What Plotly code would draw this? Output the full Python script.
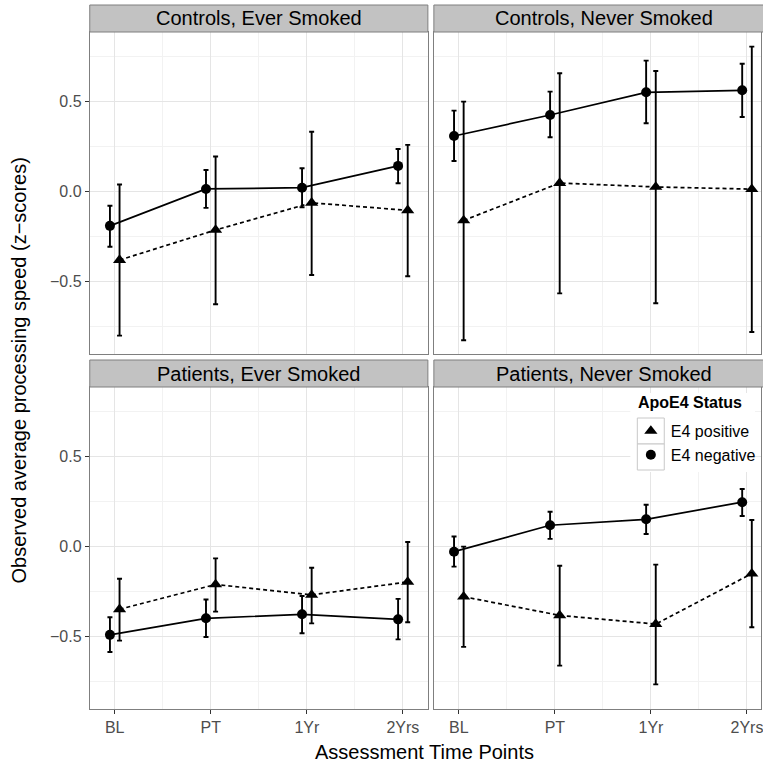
import plotly.graph_objects as go

W, H = 763, 773

# ---------------- data ----------------
time_labels = ["BL", "PT", "1Yr", "2Yrs"]
time_index = [1, 2, 3, 4]
panel_titles = ["Controls, Ever Smoked", "Controls, Never Smoked",
                "Patients, Ever Smoked", "Patients, Never Smoked"]
legend_title = "ApoE4 Status"
pos_name = "E4 positive"
neg_name = "E4 negative"

# Controls, Ever Smoked
ce_neg_mean = [-0.190, 0.015, 0.022, 0.143]
ce_neg_lower = [-0.306, -0.090, -0.087, 0.047]
ce_neg_upper = [-0.078, 0.120, 0.130, 0.237]
ce_pos_mean = [-0.380, -0.213, -0.062, -0.104]
ce_pos_lower = [-0.800, -0.626, -0.463, -0.470]
ce_pos_upper = [0.040, 0.195, 0.333, 0.260]

# Controls, Never Smoked
cn_neg_mean = [0.309, 0.426, 0.552, 0.563]
cn_neg_lower = [0.170, 0.302, 0.380, 0.415]
cn_neg_upper = [0.450, 0.556, 0.728, 0.711]
cn_pos_mean = [-0.160, 0.048, 0.026, 0.014]
cn_pos_lower = [-0.826, -0.565, -0.620, -0.780]
cn_pos_upper = [0.500, 0.658, 0.670, 0.806]

# Patients, Ever Smoked
pe_neg_mean = [-0.490, -0.398, -0.376, -0.404]
pe_neg_lower = [-0.585, -0.502, -0.481, -0.515]
pe_neg_upper = [-0.392, -0.294, -0.274, -0.290]
pe_pos_mean = [-0.348, -0.210, -0.268, -0.196]
pe_pos_lower = [-0.522, -0.361, -0.426, -0.420]
pe_pos_upper = [-0.178, -0.065, -0.117, 0.026]

# Patients, Never Smoked
pn_neg_mean = [-0.028, 0.119, 0.152, 0.247]
pn_neg_lower = [-0.111, 0.043, 0.070, 0.170]
pn_neg_upper = [0.056, 0.194, 0.233, 0.320]
pn_pos_mean = [-0.278, -0.382, -0.430, -0.150]
pn_pos_lower = [-0.557, -0.661, -0.765, -0.448]
pn_pos_upper = [0.000, -0.106, -0.100, 0.148]

y_tickvals = [-0.5, 0.0, 0.5]
y_ticktext = ["\u22120.5", "0.0", "0.5"]

panels = [
    ((ce_neg_mean, ce_neg_lower, ce_neg_upper), (ce_pos_mean, ce_pos_lower, ce_pos_upper)),
    ((cn_neg_mean, cn_neg_lower, cn_neg_upper), (cn_pos_mean, cn_pos_lower, cn_pos_upper)),
    ((pe_neg_mean, pe_neg_lower, pe_neg_upper), (pe_pos_mean, pe_pos_lower, pe_pos_upper)),
    ((pn_neg_mean, pn_neg_lower, pn_neg_upper), (pn_pos_mean, pn_pos_lower, pn_pos_upper)),
]

# ---------------- geometry / style ----------------
FONT = "Liberation Sans, Arial, Helvetica, sans-serif"
DODGE = 0.05
X_LO, X_HI = 0.74, 4.26
Y_RANGE = [-0.902, 0.887]
col_px = [(90, 429), (435, 776)]
row_px = [(32, 354), (387, 709)]
strip_px = [(5, 32), (360, 387)]
ppu = (col_px[0][1] - col_px[0][0]) / (X_HI - X_LO)

GRID_MAJOR = "#E5E5E5"
GRID_MINOR = "#F2F2F2"
BORDER = "#7F7F7F"
STRIP_FILL = "#C2C2C2"
TICK_COLOR = "#333333"
TICKLABEL_COLOR = "#4D4D4D"


def pxx(p):
    return p / W


def pxy(p):
    return 1 - p / H


fig = go.Figure()
layout = dict(
    width=W, height=H,
    margin=dict(l=0, r=0, t=0, b=0),
    paper_bgcolor="white", plot_bgcolor="white",
    font=dict(family=FONT, color="black"),
    showlegend=True,
    shapes=[], annotations=[],
)

for i, (neg, pos) in enumerate(panels):
    r, c = divmod(i, 2)
    sfx = "" if i == 0 else str(i + 1)
    c0, c1 = col_px[c]
    r0, r1 = row_px[r]
    right_px = min(c1, W)
    xa = dict(
        domain=[pxx(c0), pxx(right_px)],
        range=[X_LO, X_LO + (right_px - c0) / ppu],
        anchor="y" + sfx,
        tickmode="array", tickvals=time_index, ticktext=time_labels,
        showticklabels=(r == 1), ticklabeloverflow="allow",
        ticks="outside" if r == 1 else "", ticklen=4, tickwidth=1, tickcolor=TICK_COLOR,
        tickfont=dict(size=16, color=TICKLABEL_COLOR, family=FONT),
        showline=True, mirror=True, linecolor=BORDER, linewidth=1,
        showgrid=True, gridcolor=GRID_MAJOR, gridwidth=1,
        minor=dict(tickmode="array", tickvals=[1.5, 2.5, 3.5], showgrid=True,
                   gridcolor=GRID_MINOR, gridwidth=1, ticks=""),
        zeroline=False, fixedrange=True,
    )
    ya = dict(
        domain=[pxy(r1), pxy(r0)],
        range=Y_RANGE,
        anchor="x" + sfx,
        tickmode="array", tickvals=y_tickvals, ticktext=y_ticktext,
        showticklabels=(c == 0),
        ticks="outside" if c == 0 else "", ticklen=4, tickwidth=1, tickcolor=TICK_COLOR,
        tickfont=dict(size=16, color=TICKLABEL_COLOR, family=FONT),
        showline=True, mirror=True, linecolor=BORDER, linewidth=1,
        showgrid=True, gridcolor=GRID_MAJOR, gridwidth=1,
        minor=dict(tickmode="array", tickvals=[-0.75, -0.25, 0.25, 0.75], showgrid=True,
                   gridcolor=GRID_MINOR, gridwidth=1, ticks=""),
        zeroline=False, fixedrange=True,
    )
    layout["xaxis" + sfx] = xa
    layout["yaxis" + sfx] = ya

    for (mean, lo, hi), sym, size, dash, shift in (
        (neg, "circle", 10, "solid", -DODGE),
        (pos, "triangle-up", 11.5, "4px,3px", DODGE),
    ):
        fig.add_trace(go.Scatter(
            x=[t + shift for t in time_index], y=mean,
            mode="lines+markers",
            line=dict(color="black", width=1.7, dash=dash),
            marker=dict(symbol=sym, size=size, color="black"),
            error_y=dict(type="data", symmetric=False,
                         array=[h - m for h, m in zip(hi, mean)],
                         arrayminus=[m - l for m, l in zip(mean, lo)],
                         color="black", thickness=1.9, width=2.5),
            xaxis="x" + sfx, yaxis="y" + sfx,
            showlegend=False, hoverinfo="skip",
        ))

    # strip
    s0, s1 = strip_px[r]
    layout["shapes"].append(dict(
        type="rect", xref="paper", yref="paper",
        x0=pxx(c0), x1=pxx(c1), y0=pxy(s1), y1=pxy(s0),
        fillcolor=STRIP_FILL, line=dict(color=BORDER, width=1), layer="above",
    ))
    layout["annotations"].append(dict(
        xref="paper", yref="paper", x=pxx((c0 + c1) / 2), y=pxy((s0 + s1) / 2),
        text=panel_titles[i], showarrow=False, xanchor="center", yanchor="middle",
        font=dict(size=20, color="black", family=FONT),
    ))

# legend background and key boxes (style only)
layout["shapes"].append(dict(
    type="rect", xref="paper", yref="paper",
    x0=pxx(632), x1=pxx(757), y0=pxy(472), y1=pxy(393),
    fillcolor="white", line=dict(width=0), layer="above",
))
for k0, k1 in ((418, 444), (444, 470)):
    layout["shapes"].append(dict(
        type="rect", xref="paper", yref="paper",
        x0=pxx(639), x1=pxx(666), y0=pxy(k1), y1=pxy(k0),
        fillcolor="white", line=dict(color="#C8C8C8", width=1), layer="above",
    ))
layout["annotations"].append(dict(
    xref="paper", yref="paper", x=pxx(638), y=pxy(403),
    text="<b>" + legend_title + "</b>", showarrow=False, xanchor="left", yanchor="middle",
    font=dict(size=16, color="black", family=FONT),
))

# legend entries
fig.add_trace(go.Scatter(
    x=[None], y=[None], mode="markers", name=pos_name, legendgroup="pos",
    marker=dict(symbol="triangle-up", size=11.5, color="black"), showlegend=True,
))
fig.add_trace(go.Scatter(
    x=[None], y=[None], mode="markers", name=neg_name, legendgroup="neg",
    marker=dict(symbol="circle", size=10, color="black"), showlegend=True,
))
layout["legend"] = dict(
    x=pxx(632.5), y=pxy(414), xanchor="left", yanchor="top",
    bgcolor="rgba(0,0,0,0)", borderwidth=0,
    font=dict(size=16, color="black", family=FONT),
    tracegroupgap=6, traceorder="normal",
)

# axis titles
layout["annotations"].append(dict(
    xref="paper", yref="paper", x=pxx(426), y=pxy(752),
    text="Assessment Time Points", showarrow=False, xanchor="center", yanchor="middle",
    font=dict(size=20, color="black", family=FONT),
))
layout["annotations"].append(dict(
    xref="paper", yref="paper", x=pxx(20), y=pxy(370.5),
    text="Observed average processing speed (z\u2212scores)", showarrow=False,
    xanchor="center", yanchor="middle", textangle=-90,
    font=dict(size=20, color="black", family=FONT),
))

fig.update_layout(**layout)
fig.write_html("out.html", config={"displayModeBar": False, "staticPlot": True},
               post_script="document.body.style.margin='0px';")
